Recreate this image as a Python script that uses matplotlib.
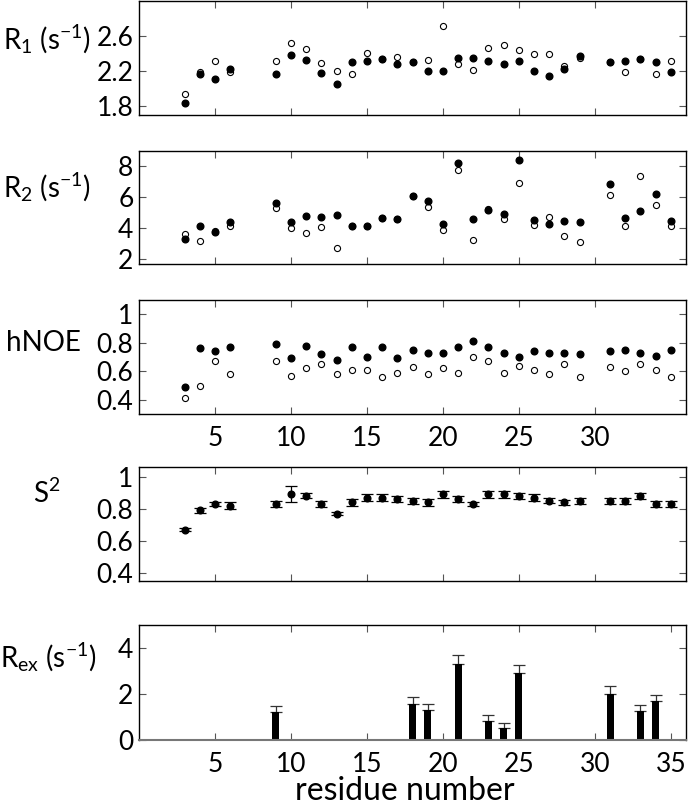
import matplotlib
matplotlib.use("Agg")
import matplotlib.pyplot as plt
import numpy as np

plt.rcParams['font.family'] = ['Lato', 'DejaVu Sans']
plt.rcParams['mathtext.fontset'] = 'custom'
plt.rcParams['mathtext.rm'] = 'Lato'
plt.rcParams['mathtext.it'] = 'Lato:italic'

residues = [3, 4, 5, 6, 9, 10, 11, 12, 13, 14, 15, 16, 17, 18, 19, 20, 21, 22,
            23, 24, 25, 26, 27, 28, 29, 31, 32, 33, 34, 35]

r1_filled = [1.84, 2.17, 2.11, 2.23, 2.17, 2.38, 2.33, 2.18, 2.05, 2.30, 2.32, 2.34,
             2.28, 2.30, 2.20, 2.20, 2.35, 2.35, 2.32, 2.28, 2.32, 2.20, 2.15, 2.23,
             2.37, 2.30, 2.32, 2.34, 2.30, 2.19]
r1_open = [1.94, 2.19, 2.32, 2.19, 2.32, 2.52, 2.45, 2.29, 2.20, 2.17, 2.41, 2.34,
           2.36, 2.30, 2.33, 2.71, 2.28, 2.21, 2.46, 2.50, 2.44, 2.40, 2.39, 2.26,
           2.35, 2.30, 2.19, 2.34, 2.17, 2.32]

r2_filled = [3.26, 4.09, 3.76, 4.41, 5.65, 4.41, 4.78, 4.72, 4.83, 4.09, 4.11, 4.65,
             4.59, 6.07, 5.76, 4.22, 8.22, 4.59, 5.17, 4.91, 8.41, 4.50, 4.22, 4.43,
             4.41, 6.85, 4.61, 5.07, 6.22, 4.46]
r2_open = [3.63, 3.13, 3.78, 4.13, 5.28, 4.00, 3.65, 4.07, 2.67, 4.09, 4.13, 4.65,
           4.59, 6.05, 5.33, 3.83, 7.76, 3.24, 5.22, 4.59, 6.91, 4.20, 4.72, 3.50,
           3.09, 6.11, 4.09, 7.37, 5.52, 4.13]

noe_filled = [0.49, 0.76, 0.74, 0.77, 0.79, 0.69, 0.78, 0.72, 0.68, 0.77, 0.70, 0.77,
              0.69, 0.75, 0.73, 0.73, 0.77, 0.81, 0.77, 0.73, 0.70, 0.74, 0.73, 0.73,
              0.72, 0.74, 0.75, 0.73, 0.71, 0.75]
noe_open = [0.41, 0.50, 0.67, 0.58, 0.67, 0.57, 0.62, 0.65, 0.58, 0.61, 0.61, 0.56,
            0.59, 0.63, 0.58, 0.62, 0.59, 0.70, 0.67, 0.59, 0.64, 0.61, 0.58, 0.65,
            0.56, 0.63, 0.60, 0.65, 0.61, 0.56]

s2 = [0.67, 0.79, 0.83, 0.82, 0.83, 0.89, 0.88, 0.83, 0.77, 0.84, 0.87, 0.87,
      0.86, 0.85, 0.84, 0.89, 0.86, 0.83, 0.89, 0.89, 0.88, 0.87, 0.85, 0.84,
      0.85, 0.85, 0.85, 0.88, 0.83, 0.83]
s2_err = [0.01, 0.015, 0.015, 0.02, 0.02, 0.05, 0.015, 0.02, 0.012, 0.02, 0.02, 0.02,
          0.02, 0.02, 0.02, 0.02, 0.02, 0.015, 0.02, 0.02, 0.02, 0.02, 0.015, 0.015,
          0.02, 0.02, 0.02, 0.02, 0.02, 0.02]

rex_res = [9, 18, 19, 21, 23, 24, 25, 31, 33, 34]
rex = [1.21, 1.55, 1.30, 3.31, 0.82, 0.53, 2.91, 2.00, 1.26, 1.68]
rex_err = [0.28, 0.30, 0.28, 0.38, 0.25, 0.19, 0.37, 0.34, 0.26, 0.29]

ylabels = [r'R$_1$ (s$^{\mathrm{-}1}$)', r'R$_2$ (s$^{\mathrm{-}1}$)', 'hNOE', r'S$^2$',
           r'R$_{\rm ex}$ (s$^{\mathrm{-}1}$)']

W, H = 688, 807
fig = plt.figure(figsize=(W / 100, H / 100), dpi=100)

panels_px = [(1, 115), (151, 264), (300, 414), (467, 581), (625, 740)]
left_px, right_px = 139, 686
axes = []
for top, bot in panels_px:
    ax = fig.add_axes([left_px / W, 1 - bot / H, (right_px - left_px) / W, (bot - top) / H])
    axes.append(ax)

FS = 19
LFS = 20
for ax in axes:
    ax.set_xlim(0, 36)
    ax.tick_params(direction='in', top=True, right=True, length=5, width=0.8,
                   labelsize=FS, pad=4, color='#555555')
    for sp in ax.spines.values():
        sp.set_linewidth(1.0)

ms_f = 4.8
ms_o = 4.4

# R1
ax = axes[0]
ax.plot(residues, r1_open, 'o', ms=ms_o, mfc='white', mec='black', mew=0.8, ls='none')
ax.plot(residues, r1_filled, 'o', ms=ms_f, color='black', ls='none')
ax.set_ylim(1.7, 3.0)
ax.set_yticks([1.8, 2.2, 2.6])
ax.set_yticklabels(['1.8', '2.2', '2.6'])

# R2
ax = axes[1]
ax.plot(residues, r2_open, 'o', ms=ms_o, mfc='white', mec='black', mew=0.8, ls='none')
ax.plot(residues, r2_filled, 'o', ms=ms_f, color='black', ls='none')
ax.set_ylim(1.65, 9.0)
ax.set_yticks([2, 4, 6, 8])

# hNOE
ax = axes[2]
ax.plot(residues, noe_open, 'o', ms=ms_o, mfc='white', mec='black', mew=0.8, ls='none')
ax.plot(residues, noe_filled, 'o', ms=ms_f, color='black', ls='none')
ax.set_ylim(0.3, 1.1)
ax.set_yticks([0.4, 0.6, 0.8, 1.0])
ax.set_yticklabels(['0.4', '0.6', '0.8', '1'])

# S2
ax = axes[3]
ax.errorbar(residues, s2, yerr=s2_err, fmt='o', ms=ms_f, color='black',
            ecolor='black', elinewidth=0.9, capsize=4, capthick=0.9)
ax.set_ylim(0.35, 1.06)
ax.set_yticks([0.4, 0.6, 0.8, 1.0])
ax.set_yticklabels(['0.4', '0.6', '0.8', '1'])

# Rex
ax = axes[4]
ax.bar(rex_res, rex, width=0.46, color='black', zorder=2)
ax.errorbar(rex_res, rex, yerr=[np.zeros(len(rex)), rex_err], fmt='none',
            ecolor='#333333', elinewidth=0.9, capsize=4, capthick=0.9, zorder=1)
ax.set_ylim(0, 5)
ax.set_yticks([0, 2, 4])
ax.spines['bottom'].set_color('#777777')
ax.spines['bottom'].set_linewidth(1.5)

for i, ax in enumerate(axes):
    if i == 4:
        ax.set_xticks([5, 10, 15, 20, 25, 30, 35])
    else:
        ax.set_xticks([5, 10, 15, 20, 25, 30])
    if i not in (2, 4):
        ax.set_xticklabels([])
    ax.tick_params(axis='x', pad=9)

# x-axis title
fig.text(405 / W, 7 / H, 'residue number', ha='center', va='baseline', fontsize=23)

label_pos = [(3, 0.66), (3, 0.68), (6, 0.62), (33, 0.77), (0, 0.72)]
for ax, lab, (xpx, yf) in zip(axes, ylabels, label_pos):
    ax.text((xpx - left_px) / (right_px - left_px), yf, lab, transform=ax.transAxes,
            ha='left', va='center', fontsize=LFS)

fig.savefig('out.png', dpi=100)
